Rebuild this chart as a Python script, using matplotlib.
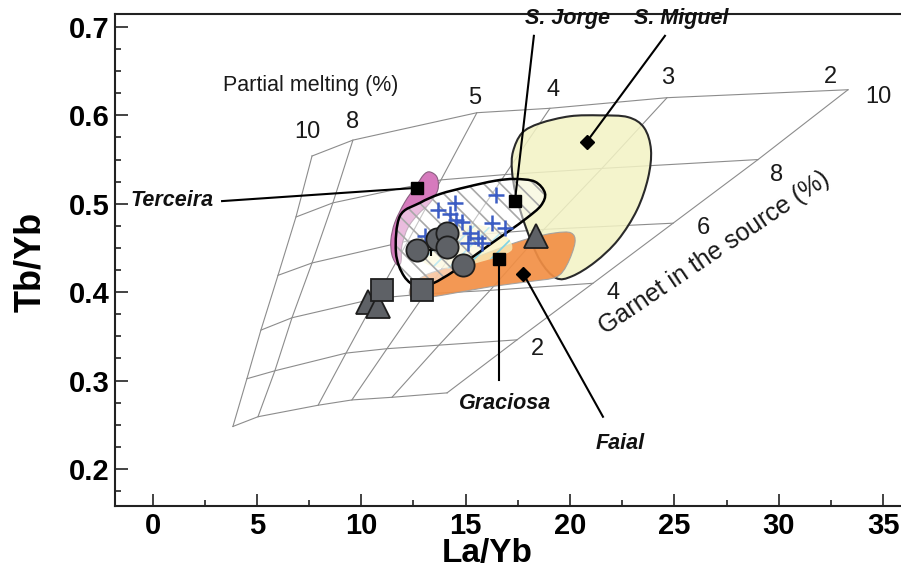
import numpy as np
import matplotlib
matplotlib.use("Agg")
import matplotlib.pyplot as plt
from matplotlib.path import Path
from matplotlib.patches import PathPatch
from matplotlib.ticker import MultipleLocator

# melting model grid, rows = garnet in source (%), columns = partial melting (%)
melt_pct = [10, 8, 5, 4, 3, 2]
garnet_pct = [0, 2, 4, 6, 8, 10]
grid_la_yb = [
    [3.85, 5.05, 7.93, 9.55, 11.47, 14.11],
    [4.52, 5.86, 9.27, 11.23, 13.72, 17.46],
    [5.19, 6.68, 10.70, 13.05, 16.17, 21.10],
    [6.01, 7.64, 12.24, 14.92, 18.75, 24.94],
    [6.87, 8.64, 13.82, 16.89, 21.53, 29.01],
    [7.64, 9.60, 15.54, 19.04, 24.65, 33.32],
]
grid_tb_yb = [
    [0.248, 0.259, 0.272, 0.278, 0.281, 0.286],
    [0.302, 0.311, 0.331, 0.336, 0.340, 0.346],
    [0.357, 0.371, 0.393, 0.398, 0.402, 0.410],
    [0.419, 0.433, 0.458, 0.464, 0.471, 0.478],
    [0.485, 0.501, 0.527, 0.533, 0.540, 0.550],
    [0.554, 0.572, 0.603, 0.608, 0.620, 0.629],
]

# samples
circle_la = [12.65, 13.61, 14.09, 14.09, 14.89]
circle_tb = [0.448, 0.460, 0.467, 0.451, 0.431]
square_la = [10.98, 12.89]
square_tb = [0.4025, 0.4025]
triangle_la = [10.34, 10.81, 18.37]
triangle_tb = [0.389, 0.384, 0.463]
cross_la = [16.45, 14.49, 13.68, 14.54, 14.83, 16.26, 16.89, 15.21, 15.59, 15.11, 15.78, 13.05, 14.25]
cross_tb = [0.510, 0.501, 0.493, 0.482, 0.479, 0.478, 0.473, 0.467, 0.461, 0.456, 0.456, 0.464, 0.488]

# island fields (outlines)
miguel_la = [17.27, 17.70, 18.56, 20.00, 21.44, 22.78, 23.55, 23.88, 23.74, 23.21, 22.30, 21.20, 20.10, 19.33, 18.56, 17.89, 17.41, 17.22]
miguel_tb = [0.559, 0.580, 0.591, 0.599, 0.600, 0.598, 0.586, 0.561, 0.529, 0.493, 0.459, 0.434, 0.418, 0.416, 0.436, 0.473, 0.510, 0.538]
faial_la = [12.43, 13.05, 14.01, 15.45, 16.89, 18.08, 19.28, 20.05, 20.24, 19.86, 19.33, 18.08, 16.17, 14.01, 12.81, 12.33]
faial_tb = [0.408, 0.419, 0.427, 0.439, 0.452, 0.461, 0.467, 0.467, 0.456, 0.431, 0.417, 0.412, 0.406, 0.397, 0.393, 0.396]
terceira_la = [13.29, 13.63, 13.67, 13.29, 12.72, 12.24, 11.95, 11.90, 11.71, 11.47, 11.42, 11.61, 12.09, 12.62, 13.00]
terceira_tb = [0.536, 0.530, 0.516, 0.501, 0.488, 0.473, 0.453, 0.434, 0.431, 0.442, 0.459, 0.479, 0.502, 0.520, 0.533]
graciosa_la = [12.81, 13.77, 14.97, 16.17, 17.03, 17.22, 16.65, 15.69, 14.49, 13.29, 12.72]
graciosa_tb = [0.461, 0.473, 0.477, 0.473, 0.461, 0.448, 0.441, 0.434, 0.427, 0.430, 0.442]
jorge_la = [11.85, 12.81, 13.77, 15.06, 16.41, 17.36, 18.32, 18.80, 18.61, 17.94, 17.13, 16.41, 15.35, 14.39, 13.44, 12.72, 12.05, 11.66]
jorge_tb = [0.486, 0.501, 0.511, 0.519, 0.526, 0.528, 0.525, 0.512, 0.498, 0.484, 0.470, 0.458, 0.440, 0.423, 0.410, 0.406, 0.418, 0.445]

# island averages and their labels
islands = ["Terceira", "S. Jorge", "S. Miguel", "Graciosa", "Faial"]
island_la = [12.67, 17.36, 20.80, 16.61, 17.76]
island_tb = [0.518, 0.503, 0.570, 0.438, 0.421]
island_marker = ["s", "s", "D", "s", "D"]
leader_la = [3.33, 18.27, 24.55, 16.61, 21.58]
leader_tb = [0.503, 0.690, 0.690, 0.301, 0.259]
label_la = [0.93, 19.90, 25.32, 16.89, 22.40]
label_tb = [0.504, 0.710, 0.710, 0.274, 0.229]

# grid annotation positions
melt_lab_la = [7.40, 9.60, 15.45, 19.19, 24.70, 32.46]
melt_lab_tb = [0.581, 0.593, 0.620, 0.629, 0.642, 0.643]
grt_lab_la = [18.42, 22.06, 26.37, 29.92, 34.76]
grt_lab_tb = [0.336, 0.399, 0.473, 0.533, 0.621]


def smooth_path(xs, ys):
    pts = np.column_stack([xs, ys])
    n = len(pts)
    verts = [pts[0]]
    codes = [Path.MOVETO]
    for i in range(n):
        p0, p1, p2, p3 = pts[i - 1], pts[i], pts[(i + 1) % n], pts[(i + 2) % n]
        verts += [p1 + (p2 - p0) / 6, p2 - (p3 - p1) / 6, p2]
        codes += [Path.CURVE4] * 3
    return Path(verts, codes)


sans = ["Liberation Sans", "DejaVu Sans"]
plt.rcParams["hatch.linewidth"] = 1.2

fig = plt.figure(figsize=(9.01, 5.74), dpi=100)
ax = fig.add_axes([115 / 901, 1 - 506 / 574, 786 / 901, 492 / 574])
ax.set_xlim(-1.80, 35.86)
ax.set_ylim(0.158, 0.7147)

# model grid
gx = np.array(grid_la_yb)
gy = np.array(grid_tb_yb)
for i in range(len(garnet_pct)):
    ax.plot(gx[i], gy[i], color="#8c8c8c", lw=0.8, zorder=1)
for j in range(len(melt_pct)):
    ax.plot(gx[:, j], gy[:, j], color="#8c8c8c", lw=0.8, zorder=1)

# fields
ax.add_patch(PathPatch(smooth_path(miguel_la, miguel_tb), facecolor="#f3f3c4", alpha=0.85,
                       edgecolor="none", zorder=2))
ax.add_patch(PathPatch(smooth_path(miguel_la, miguel_tb), facecolor="none",
                       edgecolor="#2a2a2a", lw=1.5, zorder=2.1))
ax.add_patch(PathPatch(smooth_path(faial_la, faial_tb), facecolor="#f28f45", alpha=0.92,
                       edgecolor="#a0a0a0", lw=0.8, zorder=3))
ax.add_patch(PathPatch(smooth_path(terceira_la, terceira_tb), facecolor="#d67abd",
                       edgecolor="#8a6080", lw=0.8, zorder=3))
ax.add_patch(PathPatch(smooth_path(graciosa_la, graciosa_tb), facecolor="#fbf3bf", alpha=0.75,
                       edgecolor="none", zorder=4))
ax.add_patch(PathPatch(smooth_path(graciosa_la, graciosa_tb), facecolor="none",
                       edgecolor="#7fd3e6", lw=0, hatch="//", zorder=4.1))
ax.add_patch(PathPatch(smooth_path(jorge_la, jorge_tb), facecolor="white", alpha=0.5,
                       edgecolor="none", zorder=5))
ax.add_patch(PathPatch(smooth_path(jorge_la, jorge_tb), facecolor="none",
                       edgecolor="#a8a8a8", lw=0, hatch="\\\\", zorder=5.1))
ax.add_patch(PathPatch(smooth_path(jorge_la, jorge_tb), facecolor="none",
                       edgecolor="black", lw=1.8, zorder=5.2))

# samples
ax.plot(cross_la, cross_tb, "+", color="#3b5cc4", ms=12, mew=1.8, zorder=6)
ax.plot([13.34], [0.448], "+", color="black", ms=8, mew=1.5, zorder=6)
ax.plot(triangle_la, triangle_tb, "^", ms=17, mfc="#5e6166", mec="#1e1e1e", mew=1.3, zorder=7)
ax.plot(square_la, square_tb, "s", ms=16, mfc="#5e6166", mec="#1e1e1e", mew=1.3, zorder=7)
ax.plot(circle_la, circle_tb, "o", ms=16, mfc="#5e6166", mec="#1e1e1e", mew=1.3, zorder=7)

# island averages with leaders
for name, x, y, m, lx, ly, tx, ty in zip(islands, island_la, island_tb, island_marker,
                                         leader_la, leader_tb, label_la, label_tb):
    ax.plot([x, lx], [y, ly], color="black", lw=1.5, zorder=8, clip_on=False)
    ax.plot(x, y, m, color="black", ms=8 if m == "s" else 7, zorder=9)
    ax.text(tx, ty, name, ha="center", va="center", fontsize=15.5, fontweight="bold",
            fontstyle="italic", family=sans, color="#111111", zorder=9, clip_on=False)

# grid annotations
for v, x, y in zip(melt_pct, melt_lab_la, melt_lab_tb):
    ax.text(x, y, str(v), ha="center", va="center", fontsize=17, family=sans, color="#1a1a1a")
for v, x, y in zip(garnet_pct[1:], grt_lab_la, grt_lab_tb):
    ax.text(x, y, str(v), ha="center", va="center", fontsize=17, family=sans, color="#1a1a1a")
ax.text(3.37, 0.634, "Partial melting (%)", ha="left", va="center", fontsize=15.5,
        family=sans, color="#1a1a1a")
ax.text(26.9, 0.444, "Garnet in the source (%)", ha="center", va="center", fontsize=18,
        rotation=34, rotation_mode="anchor", family=sans, color="#1a1a1a")

# axes styling
ax.spines["right"].set_visible(False)
for s in ["left", "bottom", "top"]:
    ax.spines[s].set_linewidth(1.5)
    ax.spines[s].set_color("#222222")
ax.xaxis.set_major_locator(MultipleLocator(5))
ax.xaxis.set_minor_locator(MultipleLocator(2.5))
ax.yaxis.set_major_locator(MultipleLocator(0.1))
ax.yaxis.set_minor_locator(MultipleLocator(0.025))
ax.tick_params(which="major", direction="in", length=9, width=1.2, color="#222222", pad=4)
ax.tick_params(which="minor", direction="in", length=4.5, width=1.2, color="#222222")
ax.tick_params(top=False, right=False, which="both")
for lab in ax.get_xticklabels() + ax.get_yticklabels():
    lab.set_family(sans)
    lab.set_fontweight("bold")
    lab.set_fontsize(21)

ax.set_xlabel("La/Yb", family=sans, fontweight="bold", fontsize=24)
ax.set_ylabel("Tb/Yb", family=sans, fontweight="bold", fontsize=26)
ax.xaxis.set_label_coords(0.473, -0.066)
ax.yaxis.set_label_coords(-0.085, 0.496)

fig.savefig("out.png", dpi=100)
